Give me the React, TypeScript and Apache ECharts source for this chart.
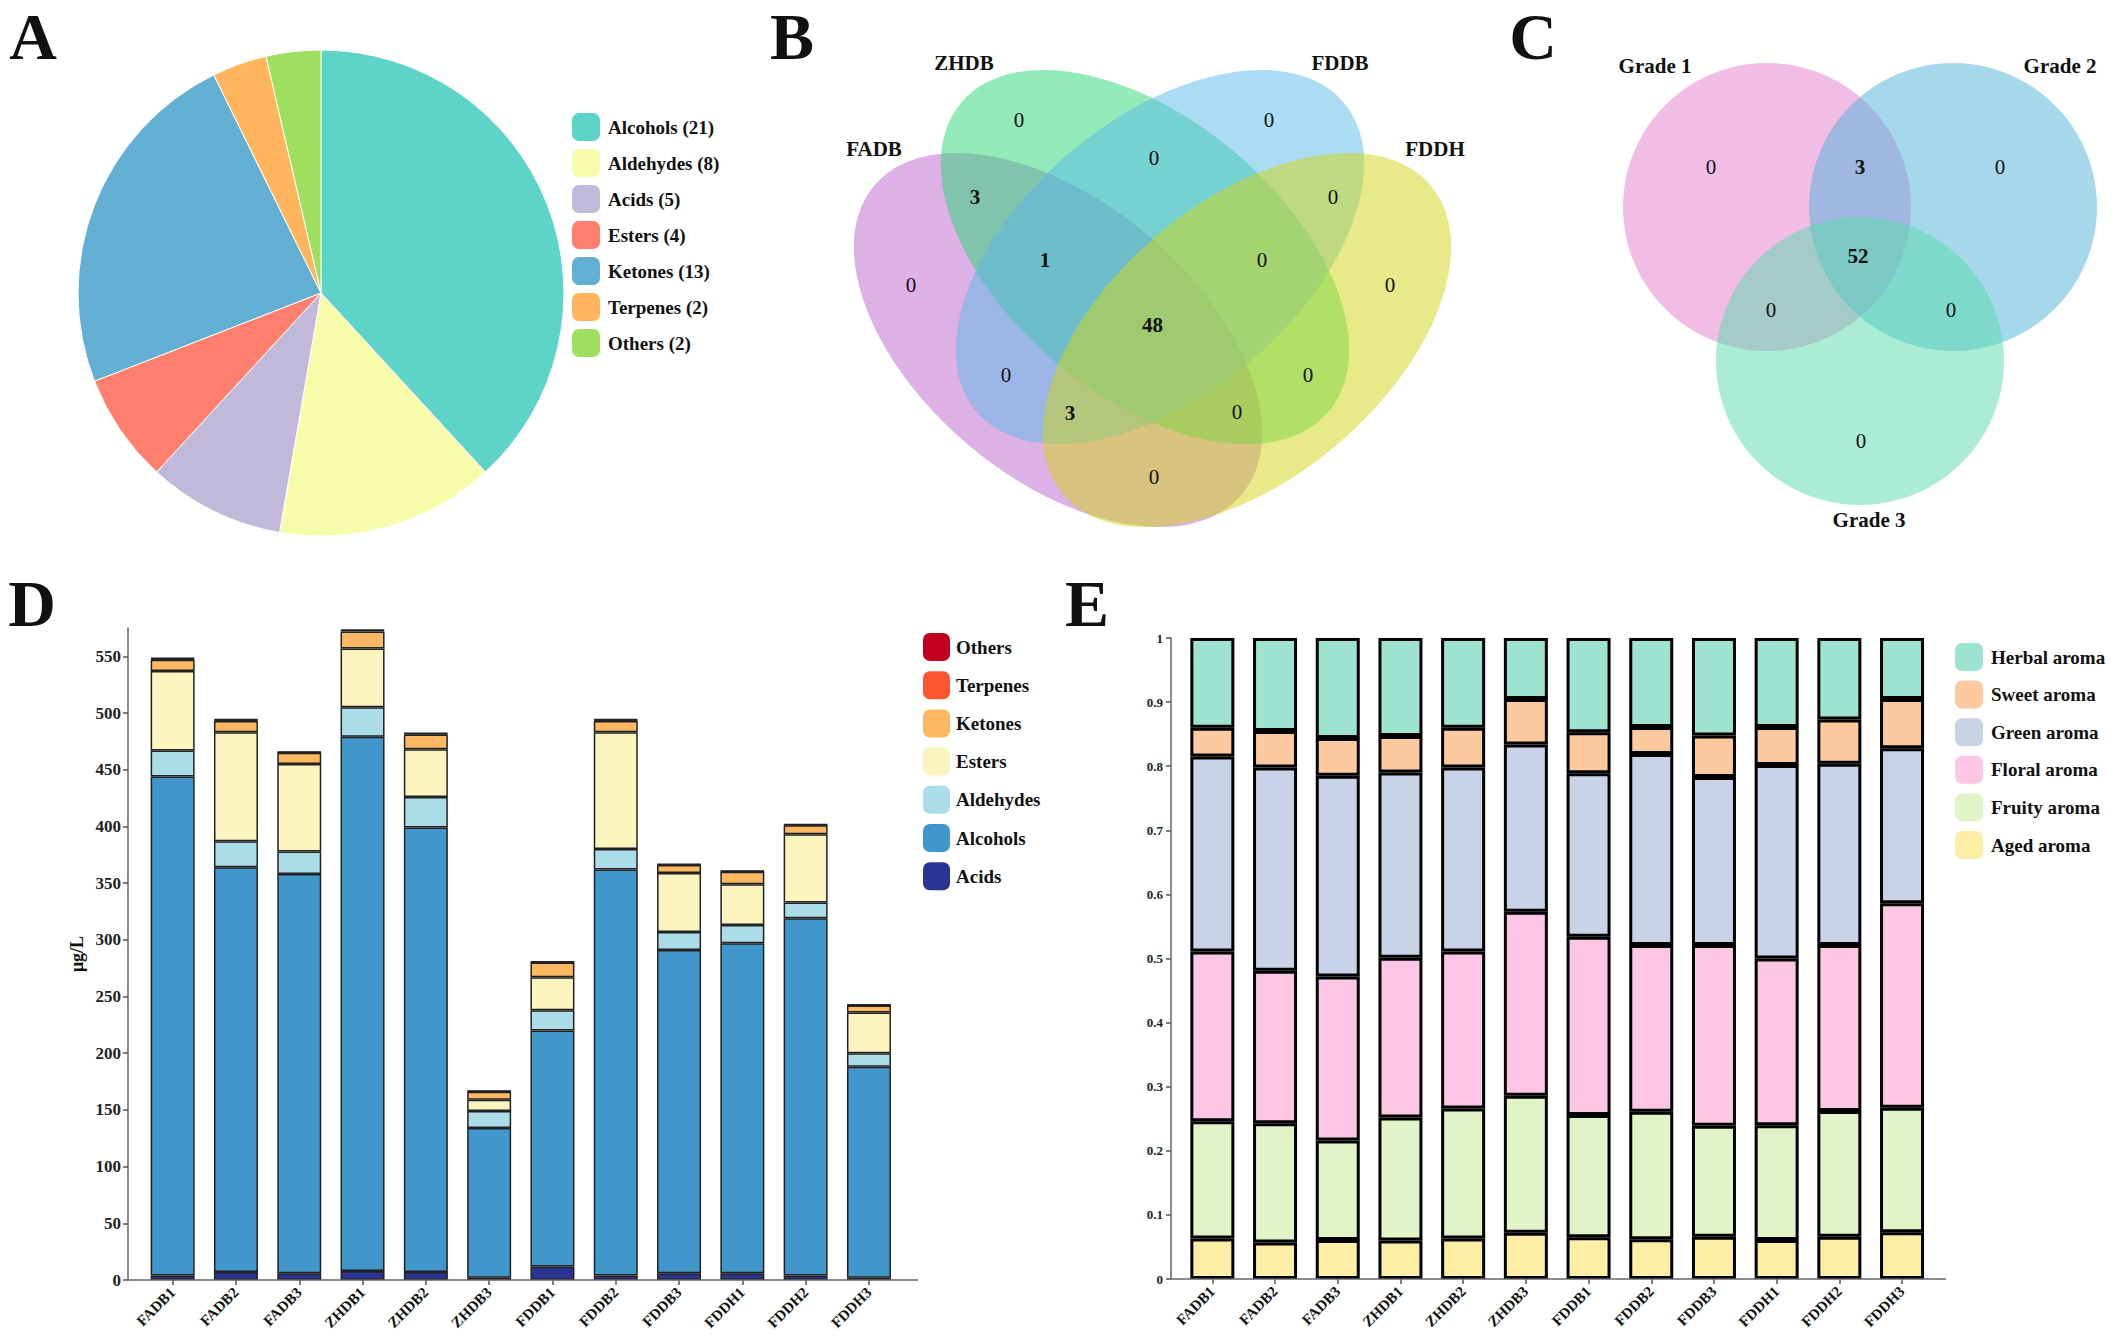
import React, { useEffect, useRef } from "react";
import * as echarts from "echarts";

const W = 2115;
const H = 1340;
const SERIF = '"Liberation Serif", "Times New Roman", serif';

// ---------- Panel A: compound classes (pie) ----------
const pieCategories = ["Alcohols", "Aldehydes", "Acids", "Esters", "Ketones", "Terpenes", "Others"];
const pieCounts = [21, 8, 5, 4, 13, 2, 2];
const pieColors = ["#5ed3c7", "#f6fcaa", "#c0b9d9", "#ff7f6f", "#62afd3", "#ffb45e", "#9fdf5f"];

// ---------- Panel B: 4-set Venn ----------
const vennBSets = ["FADB", "ZHDB", "FDDB", "FDDH"];
const vennBRegions = [
  "ZHDB", "FDDB", "ZHDB∩FDDB", "FADB∩ZHDB", "FDDB∩FDDH", "FADB∩ZHDB∩FDDB", "ZHDB∩FDDB∩FDDH",
  "FADB", "FDDH", "ALL", "FADB∩FDDB", "ZHDB∩FDDH", "FADB∩FDDB∩FDDH", "FADB∩ZHDB∩FDDH", "FADB∩FDDH",
];
const vennBCounts = [0, 0, 0, 3, 0, 1, 0, 0, 0, 48, 0, 0, 3, 0, 0];

// ---------- Panel C: 3-set Venn ----------
const vennCSets = ["Grade 1", "Grade 2", "Grade 3"];
const vennCRegions = ["G1", "G1∩G2", "G2", "ALL", "G1∩G3", "G2∩G3", "G3"];
const vennCCounts = [0, 3, 0, 52, 0, 0, 0];

// ---------- Panel D: concentrations (µg/L) ----------
const samples = ["FADB1", "FADB2", "FADB3", "ZHDB1", "ZHDB2", "ZHDB3", "FDDB1", "FDDB2", "FDDB3", "FDDH1", "FDDH2", "FDDH3"];
const acids = [4, 7, 6, 8, 7, 2, 12, 4, 6, 6, 4, 2];
const alcohols = [440, 357, 352, 471, 392, 132, 208, 358, 285, 291, 315, 186];
const aldehydes = [23, 23, 20, 26, 27, 15, 18, 18, 16, 16, 14, 12];
const esters = [70, 96, 77, 52, 42, 10, 29, 103, 52, 36, 60, 36];
const ketones = [10, 10, 10, 15, 13, 7, 13, 10, 7, 11, 8, 6];
const terpenes = [1, 1, 0.5, 1, 1, 0.5, 0.5, 1, 0.5, 0.5, 0.5, 0.5];
const others = [0.5, 0.5, 0.5, 0.5, 0.5, 0.5, 0.5, 0.5, 0.5, 0.5, 0.5, 0.5];
const dNames = ["Acids", "Alcohols", "Aldehydes", "Esters", "Ketones", "Terpenes", "Others"];
const dColors = ["#2a3593", "#4197cc", "#abdde9", "#fbf4bf", "#fdb862", "#ff5533", "#c0001e"];
const dLegendOrder = ["Others", "Terpenes", "Ketones", "Esters", "Aldehydes", "Alcohols", "Acids"];

// ---------- Panel E: aroma proportions ----------
const aged = [0.063, 0.057, 0.061, 0.06, 0.063, 0.072, 0.065, 0.062, 0.066, 0.061, 0.066, 0.073];
const fruity = [0.183, 0.186, 0.155, 0.192, 0.203, 0.214, 0.191, 0.199, 0.173, 0.179, 0.196, 0.194];
const floral = [0.265, 0.238, 0.256, 0.249, 0.245, 0.287, 0.278, 0.26, 0.282, 0.26, 0.259, 0.319];
const green = [0.304, 0.317, 0.313, 0.289, 0.287, 0.261, 0.255, 0.298, 0.262, 0.302, 0.283, 0.242];
const sweet = [0.045, 0.057, 0.059, 0.057, 0.062, 0.071, 0.064, 0.042, 0.065, 0.059, 0.069, 0.077];
const herbal = [0.14, 0.145, 0.156, 0.153, 0.14, 0.095, 0.147, 0.139, 0.152, 0.139, 0.127, 0.095];
const eNames = ["Aged aroma", "Fruity aroma", "Floral aroma", "Green aroma", "Sweet aroma", "Herbal aroma"];
const eColors = ["#fdeea5", "#e0f4c8", "#fcc6e4", "#c9d3e8", "#fdcaa0", "#9de3cf"];
const eLegendOrder = ["Herbal aroma", "Sweet aroma", "Green aroma", "Floral aroma", "Fruity aroma", "Aged aroma"];

function txt(text: string, x: number, y: number, size: number, bold: boolean, extra: any = {}) {
  return {
    type: "text",
    x,
    y,
    silent: true,
    z: 10,
    style: {
      text,
      font: `${bold ? "bold " : ""}${size}px ${SERIF}`,
      fill: "#111",
      textAlign: "center",
      textVerticalAlign: "middle",
      ...extra,
    },
  };
}

export default function App() {
  const ref = useRef<HTMLDivElement>(null);

  useEffect(() => {
    document.body.style.margin = "0";
    if (!ref.current) return;
    const chart = echarts.init(ref.current, undefined, { renderer: "svg", width: W, height: H });

    const dSeriesData = [acids, alcohols, aldehydes, esters, ketones, terpenes, others];
    const eSeriesData = [aged, fruity, floral, green, sweet, herbal];

    // Venn B geometry (layout only)
    const ellRot = (40 * Math.PI) / 180;
    const ellB = [
      { x: 1058, y: 340, r: -ellRot, fill: "rgba(187,97,205,0.5)" },
      { x: 1145, y: 257, r: -ellRot, fill: "rgba(37,213,113,0.5)" },
      { x: 1160, y: 257, r: ellRot, fill: "rgba(89,185,231,0.5)" },
      { x: 1247, y: 340, r: ellRot, fill: "rgba(209,213,19,0.5)" },
    ];
    const bSetPos = [
      [874, 149],
      [964, 63],
      [1340, 63],
      [1435, 149],
    ];
    const bRegionPos = [
      [1019, 120], [1269, 120], [1154, 158], [975, 197], [1333, 197], [1045, 260], [1262, 260],
      [911, 285], [1390, 285], [1152.5, 325], [1006, 375], [1308, 375], [1070, 413], [1237, 412], [1154, 477],
    ];

    const circC = [
      { cx: 1767, cy: 207, fill: "rgba(229,123,201,0.5)" },
      { cx: 1953, cy: 207, fill: "rgba(77,177,217,0.5)" },
      { cx: 1860, cy: 361, fill: "rgba(85,217,169,0.5)" },
    ];
    const cSetPos = [
      [1655, 66],
      [2060, 66],
      [1869, 520],
    ];
    const cRegionPos = [
      [1711, 167], [1860, 167], [2000, 167], [1858, 256], [1771, 310], [1951, 310], [1861, 441],
    ];

    const graphics: any[] = [];
    // panel letters
    [
      ["A", 33, 36],
      ["B", 792, 36],
      ["C", 1533, 36],
      ["D", 32, 603],
      ["E", 1087, 603],
    ].forEach(([t, x, y]) => graphics.push(txt(t as string, x as number, y as number, 66, true)));

    ellB.forEach((e) =>
      graphics.push({
        type: "ellipse",
        x: e.x,
        y: e.y,
        rotation: e.r,
        silent: true,
        shape: { cx: 0, cy: 0, rx: 240, ry: 138 },
        style: { fill: e.fill },
      })
    );
    vennBSets.forEach((s, i) => graphics.push(txt(s, bSetPos[i][0], bSetPos[i][1], 21, true)));
    vennBCounts.forEach((c, i) =>
      graphics.push(txt(String(c), bRegionPos[i][0], bRegionPos[i][1], 21, c > 0))
    );

    circC.forEach((c) =>
      graphics.push({
        type: "circle",
        silent: true,
        shape: { cx: c.cx, cy: c.cy, r: 144 },
        style: { fill: c.fill },
      })
    );
    vennCSets.forEach((s, i) => graphics.push(txt(s, cSetPos[i][0], cSetPos[i][1], 21, true)));
    vennCCounts.forEach((c, i) =>
      graphics.push(txt(String(c), cRegionPos[i][0], cRegionPos[i][1], 21, c > 0))
    );

    // x axis lines
    graphics.push({
      type: "line",
      silent: true,
      z: 5,
      shape: { x1: 128, y1: 1280, x2: 918, y2: 1280 },
      style: { stroke: "#666", lineWidth: 1.5 },
    });
    graphics.push({
      type: "line",
      silent: true,
      z: 5,
      shape: { x1: 1171, y1: 1279, x2: 1946, y2: 1279 },
      style: { stroke: "#666", lineWidth: 1.5 },
    });

    const legendText = {
      fontFamily: SERIF,
      fontWeight: "bold",
      fontSize: 19,
      color: "#111",
      padding: [0, 0, 0, 3],
    };

    const xAxisCommon = {
      type: "category",
      data: samples,
      axisLine: { show: false },
      axisTick: { show: true, alignWithLabel: true, length: 5, lineStyle: { color: "#555", width: 1.5 } },
      axisLabel: {
        interval: 0,
        rotate: 45,
        margin: 10,
        fontFamily: SERIF,
        fontWeight: "bold",
        fontSize: 15,
        color: "#111",
      },
    };

    const option: any = {
      animation: false,
      backgroundColor: "#fff",
      grid: [
        { left: 141, top: 628, width: 759.6, height: 652, containLabel: false },
        { left: 1181, top: 638, width: 752.4, height: 641, containLabel: false },
      ],
      xAxis: [
        { ...xAxisCommon, gridIndex: 0 },
        { ...xAxisCommon, gridIndex: 1 },
      ],
      yAxis: [
        {
          gridIndex: 0,
          type: "value",
          min: 0,
          max: 575,
          interval: 50,
          offset: 13,
          name: "μg/L",
          nameLocation: "middle",
          nameRotate: 90,
          nameGap: 42,
          nameTextStyle: { fontFamily: SERIF, fontWeight: "bold", fontSize: 18, color: "#111" },
          axisLine: { show: true, lineStyle: { color: "#666", width: 1.5 } },
          axisTick: { show: true, length: 5, lineStyle: { color: "#555", width: 1.5 } },
          splitLine: { show: false },
          axisLabel: {
            showMaxLabel: false,
            margin: 7,
            fontFamily: SERIF,
            fontWeight: "bold",
            fontSize: 17,
            color: "#222",
          },
        },
        {
          gridIndex: 1,
          type: "value",
          min: 0,
          max: 1,
          interval: 0.1,
          offset: 10,
          axisLine: { show: true, lineStyle: { color: "#666", width: 1.5 } },
          axisTick: { show: true, length: 5, lineStyle: { color: "#555", width: 1.5 } },
          splitLine: { show: false },
          axisLabel: {
            margin: 8,
            fontFamily: SERIF,
            fontWeight: "bold",
            fontSize: 13,
            color: "#222",
          },
        },
      ],
      legend: [
        {
          data: pieCategories.map((c, i) => `${c} (${pieCounts[i]})`),
          orient: "vertical",
          left: 572,
          top: 113,
          padding: 0,
          itemWidth: 28,
          itemHeight: 28,
          itemGap: 8,
          icon: "roundRect",
          selectedMode: false,
          itemStyle: { borderWidth: 0 },
          textStyle: legendText,
        },
        {
          data: dLegendOrder,
          orient: "vertical",
          left: 923,
          top: 633,
          padding: 0,
          itemWidth: 27,
          itemHeight: 28,
          itemGap: 10.2,
          icon: "roundRect",
          selectedMode: false,
          itemStyle: { borderWidth: 0 },
          textStyle: { ...legendText, padding: [0, 0, 0, 1] },
        },
        {
          data: eLegendOrder,
          orient: "vertical",
          left: 1955,
          top: 643,
          padding: 0,
          itemWidth: 28,
          itemHeight: 28,
          itemGap: 9.6,
          icon: "roundRect",
          selectedMode: false,
          itemStyle: { borderWidth: 0 },
          textStyle: legendText,
        },
      ],
      series: [
        {
          type: "pie",
          center: [321, 293],
          radius: 243,
          startAngle: 90,
          clockwise: true,
          silent: true,
          label: { show: false },
          labelLine: { show: false },
          itemStyle: { borderColor: "#fff", borderWidth: 1 },
          data: pieCategories.map((c, i) => ({
            name: `${c} (${pieCounts[i]})`,
            value: pieCounts[i],
            itemStyle: { color: pieColors[i] },
          })),
        },
        ...dNames.map((n, i) => ({
          type: "bar",
          name: n,
          stack: "d",
          xAxisIndex: 0,
          yAxisIndex: 0,
          barWidth: 44,
          silent: true,
          itemStyle: { color: dColors[i], borderColor: "#222", borderWidth: 1.5 },
          data: dSeriesData[i],
        })),
        ...eNames.map((n, i) => ({
          type: "bar",
          name: n,
          stack: "e",
          xAxisIndex: 1,
          yAxisIndex: 1,
          barWidth: 44,
          silent: true,
          itemStyle: { color: eColors[i], borderColor: "#000", borderWidth: 3 },
          data: eSeriesData[i],
        })),
      ],
      graphic: { elements: graphics },
    };

    chart.setOption(option);
    return () => chart.dispose();
  }, []);

  return <div ref={ref} style={{ width: W, height: H, background: "#fff" }} />;
}
